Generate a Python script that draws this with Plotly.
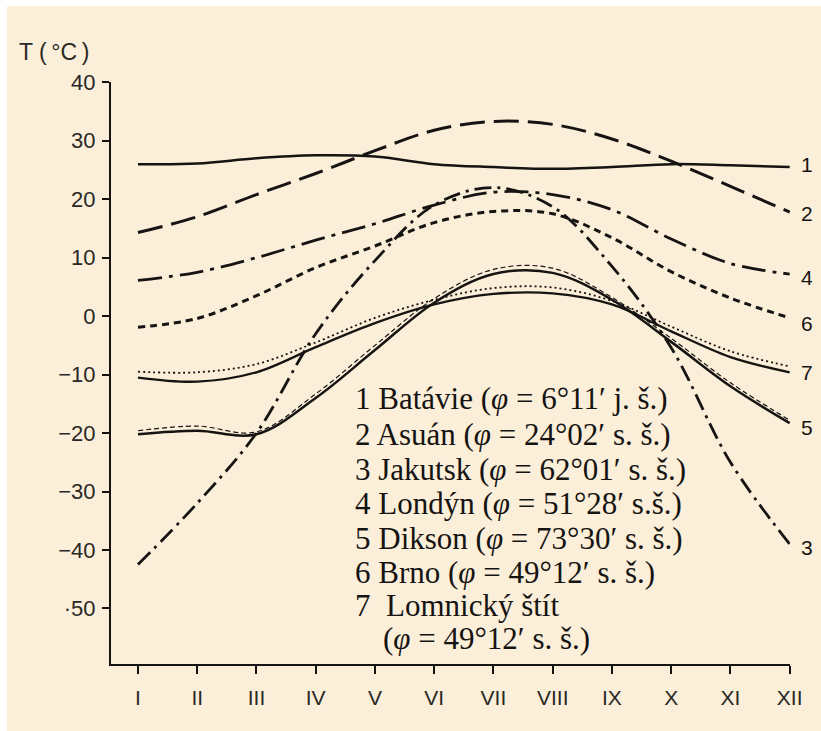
import plotly.graph_objects as go

# ---- data ----
months = list(range(1, 13))
month_labels = ["I", "II", "III", "IV", "V", "VI", "VII", "VIII", "IX", "X", "XI", "XII"]

batavie = [26.0, 26.1, 27.0, 27.5, 27.3, 26.0, 25.5, 25.2, 25.5, 26.0, 25.8, 25.5]
asuan = [14.3, 17.0, 20.8, 24.4, 28.3, 31.8, 33.3, 32.8, 30.3, 26.5, 22.2, 17.8]
jakutsk = [-42.5, -32.0, -20.0, -3.0, 9.5, 19.0, 22.0, 18.7, 8.5, -5.4, -25.0, -39.0]
londyn = [6.1, 7.5, 10.0, 13.0, 15.8, 19.0, 21.2, 20.8, 18.2, 13.2, 9.0, 7.2]
dikson = [-20.2, -19.6, -20.2, -14.0, -5.8, 2.3, 7.2, 7.4, 2.8, -4.4, -12.0, -18.3]
dikson_alt = [-19.6, -18.8, -19.8, -13.3, -5.0, 3.0, 8.0, 8.2, 3.2, -3.8, -11.4, -17.8]
brno = [-1.9, -0.4, 3.5, 8.3, 12.0, 16.0, 17.9, 17.5, 13.4, 7.6, 3.1, -0.3]
lomnicky = [-10.5, -11.2, -9.6, -5.3, -1.2, 2.0, 3.8, 3.9, 2.0, -2.6, -7.0, -9.6]
lomnicky_alt = [-9.5, -9.6, -8.2, -4.5, -0.3, 2.8, 4.8, 4.9, 2.6, -1.8, -6.0, -8.6]

y_tickvals = [40, 30, 20, 10, 0, -10, -20, -30, -40, -50]
y_ticktext = ["40", "30", "20", "10", "0", "\u221210", "\u221220", "\u221230", "\u221240", "\u00b750"]

legend_lines = [
    "1 Batávie (<i>φ</i> = 6°11′ j. š.)",
    "2 Asuán (<i>φ</i> = 24°02′ s. š.)",
    "3 Jakutsk (<i>φ</i> = 62°01′ s. š.)",
    "4 Londýn (<i>φ</i> = 51°28′ s.š.)",
    "5 Dikson (<i>φ</i> = 73°30′ s. š.)",
    "6 Brno (<i>φ</i> = 49°12′ s. š.)",
    "7  Lomnický štít",
]
legend_last = "(<i>φ</i> = 49°12′ s. š.)"

INK = "#161412"
BG = "#fbefd9"

# ---- figure geometry (pixels) ----
W, H = 821, 731
L, R, T, B = 111, 31, 82, 67
PW, PH = W - L - R, H - T - B


def px(xp):
    return (xp - L) / PW


def py(yp):
    return (H - B - yp) / PH


fig = go.Figure()


def add(y, dash, width, name):
    fig.add_trace(go.Scatter(
        x=months, y=y, mode="lines", name=name,
        line=dict(color=INK, width=width, dash=dash, shape="spline", smoothing=1.0),
        hoverinfo="skip", showlegend=False,
    ))


add(batavie, "solid", 2.5, "1")
add(asuan, "25px,9px", 3.0, "2")
add(jakutsk, "17px,6px,3px,6px", 2.8, "3")
add(londyn, "24px,7px,4px,7px", 2.8, "4")
add(dikson_alt, "5px,3px", 1.2, "5b")
add(dikson, "solid", 2.5, "5")
add(brno, "7px,5px", 3.0, "6")
add(lomnicky_alt, "2px,3px", 1.8, "7b")
add(lomnicky, "solid", 2.3, "7")

SERIF = "Liberation Serif, Times New Roman, serif"
SANS = "Liberation Sans, Arial, sans-serif"

annotations = []
leg_y = [398, 434, 469, 503, 538, 572, 605]
for txt, yy in zip(legend_lines, leg_y):
    annotations.append(dict(
        xref="paper", yref="paper", x=px(353), y=py(yy), text=txt,
        showarrow=False, xanchor="left", yanchor="middle",
        font=dict(family=SERIF, size=31, color=INK),
    ))
annotations.append(dict(
    xref="paper", yref="paper", x=px(381), y=py(638), text=legend_last,
    showarrow=False, xanchor="left", yanchor="middle",
    font=dict(family=SERIF, size=31, color=INK),
))

num_labels = [("1", 164), ("2", 214), ("4", 277), ("6", 323), ("7", 372), ("5", 427), ("3", 547)]
for t, yy in num_labels:
    annotations.append(dict(
        xref="paper", yref="paper", x=px(799), y=py(yy), text=t,
        showarrow=False, xanchor="left", yanchor="middle",
        font=dict(family=SANS, size=21, color=INK),
    ))

annotations.append(dict(
    xref="paper", yref="paper", x=px(17), y=py(52), text="T (\u2009°C\u2009)",
    showarrow=False, xanchor="left", yanchor="middle",
    font=dict(family=SANS, size=23, color="#2a2826"),
))

shapes = [
    dict(type="rect", xref="paper", yref="paper", x0=px(0), x1=px(821), y0=py(6), y1=py(0),
         fillcolor="white", line=dict(width=0), layer="below"),
    dict(type="rect", xref="paper", yref="paper", x0=px(0), x1=px(7), y0=py(731), y1=py(0),
         fillcolor="white", line=dict(width=0), layer="below"),
]

fig.update_layout(
    width=W, height=H,
    margin=dict(l=L, r=R, t=T, b=B, pad=0),
    paper_bgcolor=BG, plot_bgcolor=BG,
    annotations=annotations,
    shapes=shapes,
    showlegend=False,
    xaxis=dict(
        range=[0.545, 12.005], tickmode="array", tickvals=months, ticktext=month_labels,
        showgrid=False, zeroline=False, showline=True, linecolor=INK, linewidth=2,
        ticks="outside", ticklen=8, tickwidth=2, tickcolor=INK,
        tickfont=dict(family=SANS, size=21, color="#2a2826"),
        ticklabelstandoff=6, fixedrange=True,
    ),
    yaxis=dict(
        range=[-59.5, 40.05], tickmode="array", tickvals=y_tickvals, ticktext=y_ticktext,
        showgrid=False, zeroline=False, showline=True, linecolor=INK, linewidth=2,
        ticks="outside", ticklen=7, tickwidth=2, tickcolor=INK,
        tickfont=dict(family=SANS, size=22, color="#2a2826"),
        ticklabelstandoff=2, fixedrange=True,
    ),
)

fig.write_html(
    "out.html",
    config={"displayModeBar": False, "staticPlot": True},
    post_script="document.body.style.margin='0';document.body.style.padding='0';"
                "document.body.style.background='" + BG + "';"
                "document.documentElement.style.background='" + BG + "';"
                "document.documentElement.style.overflow='hidden';",
)
